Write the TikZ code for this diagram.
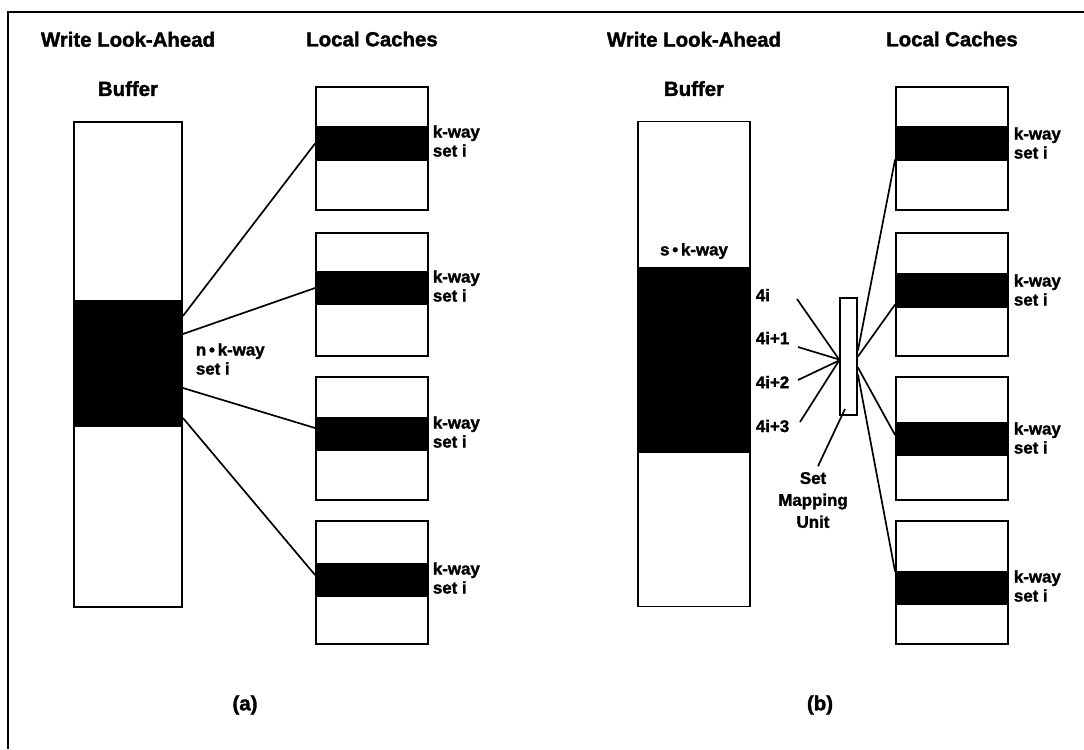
\documentclass[tikz,border=0pt]{standalone}
\usepackage{fontspec}
\setmainfont{Liberation Sans}[BoldFeatures={FakeBold=1.6}]
\usetikzlibrary{calc}

\begin{document}
\begin{tikzpicture}[x=0.025cm, y=-0.025cm, line width=1.3pt,
    buf/.style={draw, minimum width=2.7cm, minimum height=12.125cm, inner sep=0pt},
    cache/.style={draw, minimum width=2.8cm, minimum height=3.075cm, inner sep=0pt},
    band/.style={fill=black, minimum width=2.8cm, minimum height=0.85cm, inner sep=0pt},
    title/.style={font=\fontsize{14.5}{35}\selectfont\bfseries, align=center},
    lbl/.style={font=\fontsize{12}{13.5}\selectfont\bfseries, align=left, anchor=west, inner sep=0pt},
    wire/.style={line width=1.2pt}]
   \useasboundingbox (0,0) rectangle (1084,749);
   \draw[line width=1.5pt] (8,749) -- (8,12) -- (1084,12);

   % (a) buffer feeding the caches directly
   \node[title] (ta) at (128,64) {Write Look-Ahead\\Buffer};
   \node[title] (lca) at (372,39) {Local Caches};
   \node[buf] (bufa) at (128,364.5) {};
   \node[band, minimum width=2.7cm, minimum height=3.175cm] (blka) at (128,363.5) {};
   \node[lbl] (nkw) at (195,359) {n\,•\,k-way\\set i};
   \begin{scope}
    \node[cache] (ca1) at (372,148.5) {};
    \node[cache] (ca2) at (372,294.5) {};
    \node[cache] (ca3) at (372,438.5) {};
    \node[cache] (ca4) at (372,582.5) {};
    \node[band] (ka1) at (372,143.5) {};
    \node[band] (ka2) at (372,288) {};
    \node[band] (ka3) at (372,434) {};
    \node[band] (ka4) at (372,580) {};
   \end{scope}
   \node[lbl] (la1) at (432,141) {k-way\\set i};
   \node[lbl] (la2) at (432,286) {k-way\\set i};
   \node[lbl] (la3) at (432,432) {k-way\\set i};
   \node[lbl] (la4) at (432,578) {k-way\\set i};
   \draw[wire] ($(blka.east)+(0,-47.5)$) -- (ka1.west);
   \draw[wire] ($(blka.east)+(0,-29.5)$) -- (ka2.west);
   \draw[wire] ($(blka.east)+(0,24.5)$) -- ($(ka3.west)+(0,-6)$);
   \draw[wire] ($(blka.east)+(0,54.5)$) -- ($(ka4.west)+(0,-5)$);
   \node[title] (capa) at (245,705) {(a)};

   % (b) buffer going through the set mapping unit
   \node[title] (tb) at (694,64) {Write Look-Ahead\\Buffer};
   \node[title] (lcb) at (952,39) {Local Caches};
   \node[buf, minimum width=2.8cm] (bufb) at (694,364) {};
   \node[band, minimum height=4.65cm] (blkb) at (694,360) {};
   \node[lbl, anchor=center] (skw) at (694,251) {s\,•\,k-way};
   \node[lbl] (p0) at (755,295) {4i};
   \node[lbl] (p1) at (755,338) {4i+1};
   \node[lbl] (p2) at (755,382) {4i+2};
   \node[lbl] (p3) at (755,426) {4i+3};
   \node[draw, minimum width=0.425cm, minimum height=2.925cm, inner sep=0pt] (smu) at (848.5,356.5) {};
   \node[lbl, anchor=center, align=center, font=\fontsize{12}{15.6}\selectfont\bfseries] (sml) at (813,500) {Set\\Mapping\\Unit};
   \begin{scope}
    \node[cache] (cb1) at (952,148.5) {};
    \node[cache] (cb2) at (952,294.5) {};
    \node[cache] (cb3) at (952,438.5) {};
    \node[cache] (cb4) at (952,582.5) {};
    \node[band] (kb1) at (952,143.5) {};
    \node[band] (kb2) at (952,290.5) {};
    \node[band] (kb3) at (952,439) {};
    \node[band] (kb4) at (952,587.5) {};
   \end{scope}
   \node[lbl] (lb1) at (1013,143) {k-way\\set i};
   \node[lbl] (lb2) at (1013,290) {k-way\\set i};
   \node[lbl] (lb3) at (1013,438) {k-way\\set i};
   \node[lbl] (lb4) at (1013,586) {k-way\\set i};
   \coordinate (s0) at (797,299);
   \coordinate (s1) at (798,347);
   \coordinate (s2) at (798,380);
   \coordinate (s3) at (800,422);
   \draw[wire] (s0) -- ($(smu.west)+(0,3)$);
   \draw[wire] (s1) -- ($(smu.west)+(0,3)$);
   \draw[wire] (s2) -- ($(smu.west)+(0,4)$);
   \draw[wire] (s3) -- ($(smu.west)+(0,4)$);
   \draw[wire] ($(smu.east)+(0,-6)$) -- ($(kb1.south west)+(0,-2)$);
   \draw[wire] (smu.east) -- ($(kb2.west)+(0,14)$);
   \draw[wire] ($(smu.east)+(0,11)$) -- ($(kb3.west)+(0,-4)$);
   \draw[wire] ($(smu.east)+(0,18)$) -- ($(kb4.north west)+(0,2)$);
   \draw[wire] ($(sml.north)+(5,-5)$) -- ($(smu.south)+(-3.5,-7)$);
   \node[title] (capb) at (820,705) {(b)};
\end{tikzpicture}
\end{document}
